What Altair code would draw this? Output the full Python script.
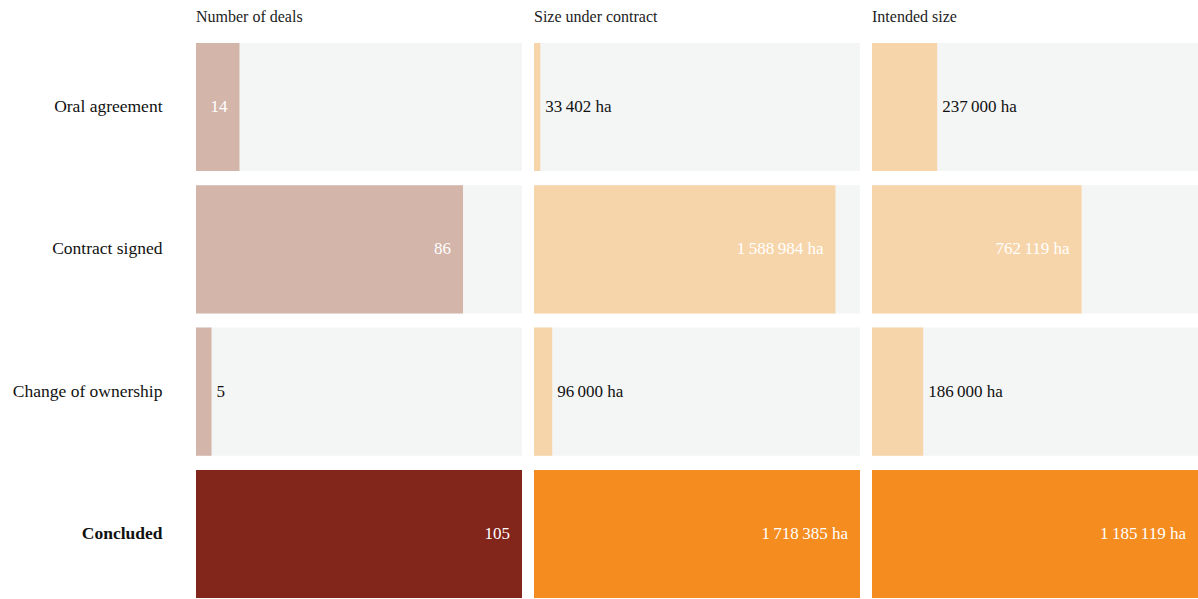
import altair as alt
import pandas as pd

stages = ["Oral agreement", "Contract signed", "Change of ownership", "Concluded"]
metrics = ["Number of deals", "Size under contract", "Intended size"]
deals = [14, 86, 5, 105]
size_contract = [33402, 1588984, 96000, 1718385]
size_intended = [237000, 762119, 186000, 1185119]
units = ["", " ha", " ha"]

series = [deals, size_contract, size_intended]

FONT = "Liberation Serif"
PANEL_W = 326

color_domain = ["0-p", "0-c", "1-p", "1-c", "2-p", "2-c"]
color_range = ["#d3b5aa", "#82251a", "#f7d5aa", "#f58c20", "#f7d5aa", "#f58c20"]
color_scale = alt.Scale(domain=color_domain, range=color_range)


def fmt(v, unit):
    return f"{v:,}".replace(",", "\u2009") + unit


panels = []
for mi, (metric, vals, unit) in enumerate(zip(metrics, series, units)):
    vmax = max(vals)
    labels = [fmt(v, unit) for v in vals]
    df = pd.DataFrame({
        "stage": stages,
        "value": vals,
        "max": [vmax] * len(vals),
        "label": labels,
        # label goes inside the bar only when it fits there
        "inside": [v / vmax * PANEL_W > len(l) * 8.5 + 14 for v, l in zip(vals, labels)],
        "key": [f"{mi}-{'c' if s == 'Concluded' else 'p'}" for s in stages],
    })

    if mi == 0:
        yaxis = alt.Axis(
            title=None, ticks=False, domain=False, labelPadding=34,
            labelFont=FONT, labelFontSize=17.5, labelColor="#111",
            labelFontWeight={"condition": {"test": "datum.value === 'Concluded'", "value": "bold"}, "value": "normal"},
            minExtent=196, maxExtent=196, labelLimit=300,
        )
    else:
        yaxis = None
    y = alt.Y("stage:N", sort=stages, axis=yaxis,
              scale=alt.Scale(paddingInner=0.1, paddingOuter=0))
    xscale = alt.Scale(domain=[0, vmax], nice=False, zero=True)
    base = alt.Chart(df)
    bg = base.mark_bar(color="#f4f5f5").encode(
        x=alt.X("max:Q", scale=xscale, axis=None), y=y)
    bar = base.mark_bar().encode(
        x=alt.X("value:Q", scale=xscale, axis=None), y=y,
        color=alt.Color("key:N", scale=color_scale, legend=None))
    tin = base.transform_filter("datum.inside").mark_text(
        align="right", baseline="middle", dx=-12, font=FONT, fontSize=17, color="white"
    ).encode(x=alt.X("value:Q", scale=xscale, axis=None), y=y, text="label:N")
    tout = base.transform_filter("!datum.inside").mark_text(
        align="left", baseline="middle", dx=5, font=FONT, fontSize=17, color="#111"
    ).encode(x=alt.X("value:Q", scale=xscale, axis=None), y=y, text="label:N")
    panel = alt.layer(bg, bar, tin, tout).properties(
        width=PANEL_W, height=555,
        title=alt.TitleParams(metric, anchor="start", frame="group", font=FONT, fontSize=16,
                              fontWeight="normal", color="#222", offset=18),
    )
    panels.append(panel)

chart = alt.hconcat(*panels, spacing=12).properties(
    padding={"left": 0, "top": 9, "right": 0, "bottom": 0}
).configure_view(stroke=None).configure_bar(
    strokeWidth=0
)

chart.save("out.html", embed_options={"renderer": "svg", "actions": False})
